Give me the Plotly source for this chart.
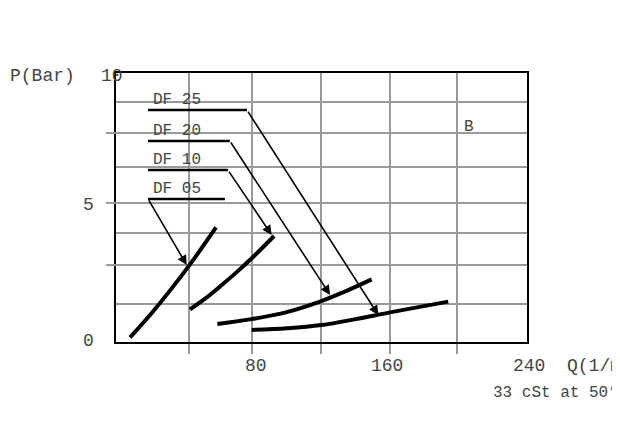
import plotly.graph_objects as go

# ---- data ----
series_names = ["DF 05", "DF 10", "DF 20", "DF 25"]
curve_q = [
    [8.2, 21.0, 33.0, 46.0, 58.4],
    [43.2, 52.0, 60.7, 70.0, 80.2, 92.3],
    [59.2, 80.0, 99.7, 119.1, 132.7, 149.3],
    [79.2, 100.0, 120.0, 140.0, 160.0, 194.0],
]
curve_p = [
    [0.17, 1.09, 2.03, 3.13, 4.26],
    [1.21, 1.61, 2.06, 2.57, 3.17, 3.94],
    [0.67, 0.86, 1.11, 1.50, 1.85, 2.33],
    [0.45, 0.51, 0.63, 0.85, 1.10, 1.50],
]
# label leader lines: horizontal start/end (Q) and level (P), arrow tip (Q, P)
leader_q_start = [18.7, 18.7, 18.7, 18.7]
leader_q_end = [63.6, 65.4, 66.5, 76.5]
leader_p = [5.32, 6.39, 7.47, 8.62]
tip_q = [41.3, 90.9, 125.0, 153.2]
tip_p = [2.86, 3.98, 1.75, 1.0]

x_grid = [42.6, 79.4, 119.7, 160.0, 199.1]
x_labels = ["80", "160", "240  Q(1/min)"]
x_label_vals = [82.0, 158.0, 240.0]
y_grid = [1.41, 2.86, 4.05, 5.17, 6.5, 7.77, 8.92]
y_tick_stubs = [2.86, 5.17, 7.77]
y_labels = ["10", "5", "0"]
y_label_vals = [9.9, 5.1, 0.05]

FONT = "Liberation Mono"
TXT = "#444444"
PLOT_W = 411.0

fig = go.Figure()
for name, q, p in zip(series_names, curve_q, curve_p):
    fig.add_trace(go.Scatter(x=q, y=p, mode="lines", name=name,
                             line=dict(color="black", width=4, shape="spline", smoothing=1.0),
                             showlegend=False, hoverinfo="skip"))

# horizontal leader lines
for i in range(4):
    fig.add_trace(go.Scatter(x=[leader_q_start[i], leader_q_end[i]], y=[leader_p[i], leader_p[i]],
                             mode="lines", line=dict(color="black", width=2.5),
                             showlegend=False, hoverinfo="skip"))

annotations = []
for i in range(4):
    start_q = leader_q_start[i] if i == 0 else leader_q_end[i]
    annotations.append(dict(x=tip_q[i], y=tip_p[i], ax=start_q, ay=leader_p[i],
                            xref="x", yref="y", axref="x", ayref="y",
                            showarrow=True, arrowhead=2, arrowsize=1.2, arrowwidth=1.6,
                            arrowcolor="black", text=""))
    annotations.append(dict(x=leader_q_start[i] + 1.5, y=leader_p[i], xref="x", yref="y",
                            text=series_names[i], showarrow=False, xanchor="left", yanchor="bottom",
                            yshift=-1, font=dict(family=FONT, size=16, color=TXT)))

annotations.append(dict(x=202, y=8.0, xref="x", yref="y", text="B", showarrow=False,
                        xanchor="left", yanchor="middle", font=dict(family=FONT, size=16, color=TXT)))
annotations.append(dict(x=-108 / PLOT_W, y=9.9, xref="paper", yref="y", text="P(Bar)", showarrow=False,
                        xanchor="left", yanchor="middle", font=dict(family=FONT, size=18, color=TXT)))
for lab, v in zip(y_labels, y_label_vals):
    if lab == "10":
        annotations.append(dict(x=-4 / PLOT_W, y=v, xref="paper", yref="y", text=lab, showarrow=False,
                                xanchor="center", yanchor="middle",
                                font=dict(family=FONT, size=18, color=TXT)))
    else:
        annotations.append(dict(x=-20 / PLOT_W, y=v, xref="paper", yref="y", text=lab, showarrow=False,
                                xanchor="right", yanchor="middle",
                                font=dict(family=FONT, size=18, color=TXT)))
for lab, v in zip(x_labels, x_label_vals):
    if lab.startswith("240"):
        annotations.append(dict(x=v, y=-0.045, xref="x", yref="paper", text=lab, showarrow=False,
                                xanchor="left", xshift=-16, yanchor="top",
                                font=dict(family=FONT, size=18, color=TXT)))
    else:
        annotations.append(dict(x=v, y=-0.045, xref="x", yref="paper", text=lab, showarrow=False,
                                xanchor="center", yanchor="top",
                                font=dict(family=FONT, size=18, color=TXT)))
annotations.append(dict(x=219, y=-0.15, xref="x", yref="paper", text="33 cSt at 50°C",
                        showarrow=False, xanchor="left", yanchor="top",
                        font=dict(family=FONT, size=16, color=TXT)))

fig.update_layout(
    width=620, height=446,
    margin=dict(l=108, r=101, t=65, b=112),
    paper_bgcolor="white", plot_bgcolor="white",
    annotations=annotations,
    xaxis=dict(range=[0, 240], tickmode="array", tickvals=x_grid, ticktext=[""] * len(x_grid),
               showgrid=True, gridcolor="#999999", gridwidth=2,
               ticks="outside", ticklen=10, tickwidth=2, tickcolor="#999999",
               showline=True, linecolor="black", linewidth=2, mirror=True, zeroline=False),
    yaxis=dict(range=[0, 10], tickmode="array", tickvals=y_grid, ticktext=[""] * len(y_grid),
               showgrid=True, gridcolor="#999999", gridwidth=2, ticks="",
               showline=True, linecolor="black", linewidth=2, mirror=True, zeroline=False),
)
for v in y_tick_stubs:
    fig.add_shape(type="line", xref="paper", yref="y", x0=-10 / PLOT_W, x1=0, y0=v, y1=v,
                  line=dict(color="#999999", width=2))

fig.write_html("out.html")
